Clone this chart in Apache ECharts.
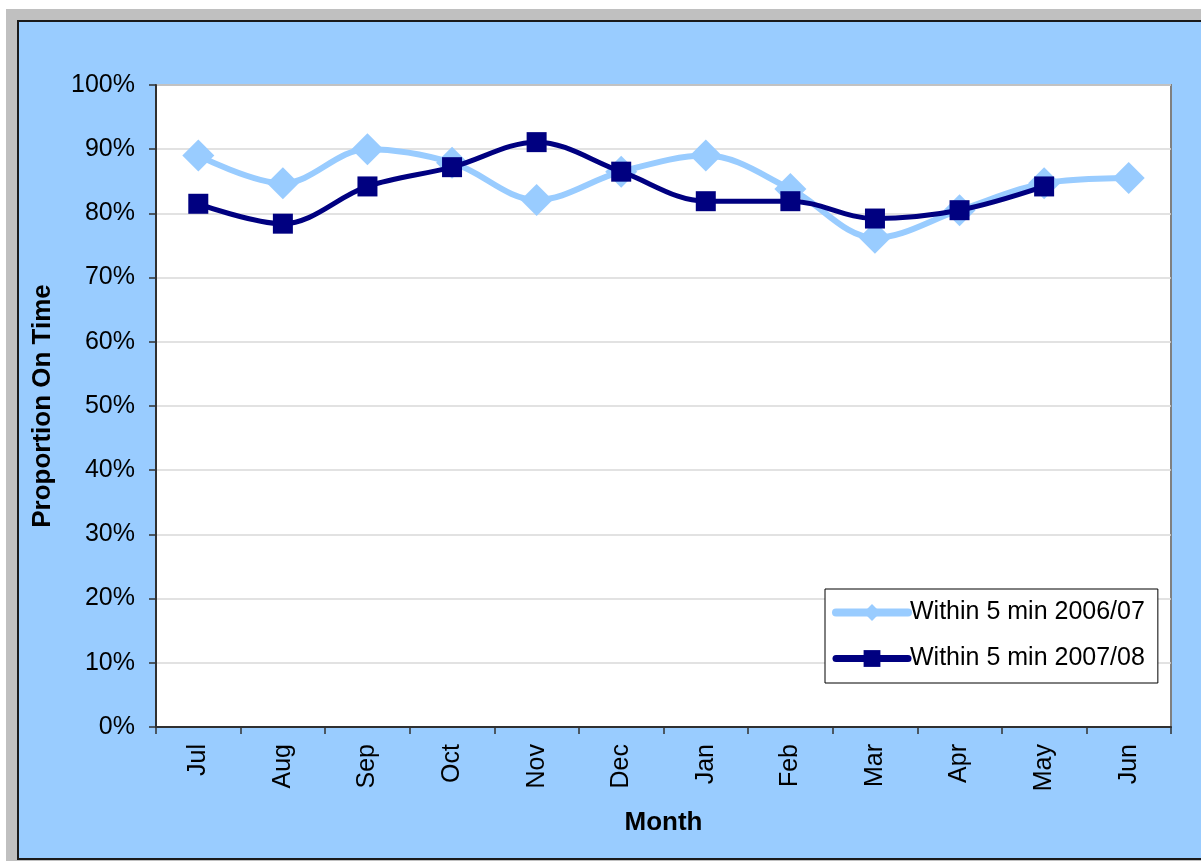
<!DOCTYPE html>
<html>
<head>
<meta charset="utf-8">
<script src="https://cdn.jsdelivr.net/npm/echarts@6/dist/echarts.min.js"></script>
<style>
  html, body { margin: 0; padding: 0; background: #ffffff; width: 1201px; height: 861px; overflow: hidden; }
  #frame { position: absolute; left: 6px; top: 9px; right: 0; bottom: 0; background: #C0C0C0; }
  #chart { position: absolute; left: 17px; top: 20px; width: 1184px; height: 836px;
           border-left: 2px solid #1a1a1a; border-top: 2px solid #1a1a1a; border-bottom: 2px solid #1a1a1a; }
</style>
</head>
<body>
<div id="frame"></div>
<div id="chart"></div>
<script>
// Monthly on-time proportion (share of services within 5 minutes)
const months = ['Jul', 'Aug', 'Sep', 'Oct', 'Nov', 'Dec', 'Jan', 'Feb', 'Mar', 'Apr', 'May', 'Jun'];
const within5_2006_07 = [0.890, 0.847, 0.900, 0.879, 0.821, 0.865, 0.890, 0.838, 0.762, 0.805, 0.847, 0.855];
const within5_2007_08 = [0.815, 0.784, 0.842, 0.872, 0.911, 0.865, 0.819, 0.819, 0.792, 0.805, 0.842, null];
const yTicks = { min: 0, max: 1, interval: 0.1 };

const FONT = '"Liberation Sans", Arial, sans-serif';
const LIGHT = '#99CCFF';
const NAVY = '#000080';

const chart = echarts.init(document.getElementById('chart'), null, { renderer: 'canvas' });

chart.setOption({
  backgroundColor: LIGHT,
  animation: false,
  textStyle: { fontFamily: FONT },
  grid: {
    left: 137, top: 63, right: 32, bottom: 131,
    show: true,
    backgroundColor: '#ffffff',
    borderColor: '#808080',
    borderWidth: 2
  },
  legend: {
    orient: 'vertical',
    left: 806,
    top: 567,
    backgroundColor: '#ffffff',
    borderColor: '#000000',
    borderWidth: 1,
    borderRadius: 0,
    padding: [11, 13, 12, 7],
    itemWidth: 72,
    itemHeight: 21,
    itemGap: 21,
    textStyle: { fontFamily: FONT, fontSize: 25, color: '#000000', padding: [0, 0, 0, -3] },
    data: [
      { name: 'Within 5 min 2006/07', lineStyle: { width: 8, cap: 'round', color: LIGHT }, itemStyle: { color: LIGHT } },
      { name: 'Within 5 min 2007/08', lineStyle: { width: 7, cap: 'round', color: NAVY }, itemStyle: { color: NAVY } }
    ]
  },
  xAxis: {
    type: 'category',
    data: months,
    boundaryGap: true,
    name: 'Month',
    nameLocation: 'middle',
    nameGap: 83,
    nameTextStyle: { fontFamily: FONT, fontSize: 26, fontWeight: 'bold', color: '#000000' },
    axisLine: { show: true, lineStyle: { color: '#303030', width: 2 } },
    axisTick: { show: true, alignWithLabel: false, length: 7, lineStyle: { color: '#303030', width: 1.5 } },
    axisLabel: { rotate: 90, margin: 17, fontFamily: FONT, fontSize: 25, color: '#000000' },
    splitLine: { show: false }
  },
  yAxis: {
    type: 'value',
    min: yTicks.min,
    max: yTicks.max,
    interval: yTicks.interval,
    name: 'Proportion On Time',
    nameLocation: 'middle',
    nameGap: 100,
    nameTextStyle: { fontFamily: FONT, fontSize: 26, fontWeight: 'bold', color: '#000000' },
    axisLine: { show: true, lineStyle: { color: '#303030', width: 2 } },
    axisTick: { show: true, length: 7, lineStyle: { color: '#303030', width: 1.5 } },
    axisLabel: {
      margin: 21, fontFamily: FONT, fontSize: 25, color: '#000000',
      formatter: v => Math.round(v * 100) + '%'
    },
    splitLine: { show: true, lineStyle: { color: '#D9D9D9', width: 1.5 } }
  },
  series: [
    {
      name: 'Within 5 min 2006/07',
      type: 'line',
      data: within5_2006_07,
      smooth: 0.35,
      symbol: 'diamond',
      symbolSize: 32,
      lineStyle: { color: LIGHT, width: 6 },
      itemStyle: { color: LIGHT },
      z: 2
    },
    {
      name: 'Within 5 min 2007/08',
      type: 'line',
      data: within5_2007_08,
      smooth: 0.35,
      connectNulls: false,
      symbol: 'rect',
      symbolSize: 20,
      lineStyle: { color: NAVY, width: 5 },
      itemStyle: { color: NAVY },
      z: 3
    }
  ]
});
</script>
</body>
</html>
